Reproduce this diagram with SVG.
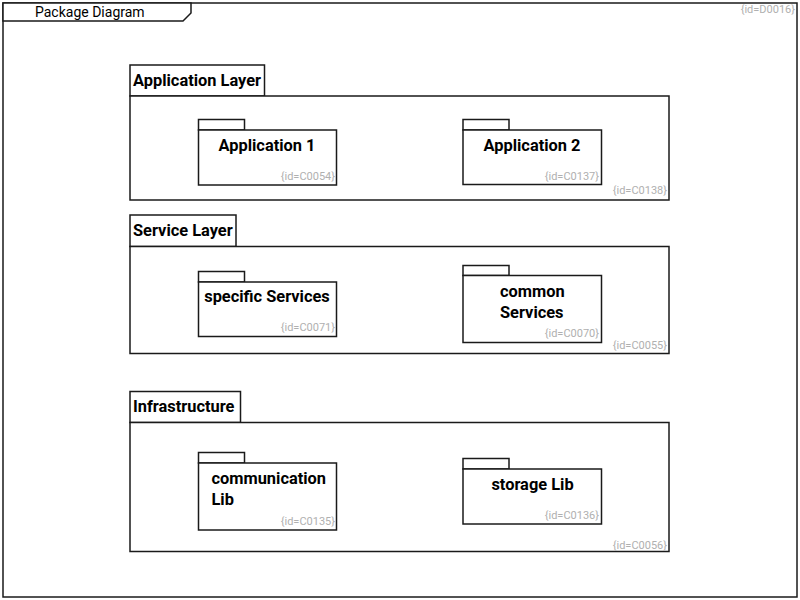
<svg xmlns="http://www.w3.org/2000/svg" width="800" height="600" viewBox="0 0 800 600">
<style>
.ln{fill:#fff;stroke:#1a1a1a;stroke-width:1.5}
.t{font-family:Roboto,"Liberation Sans",sans-serif;font-size:16.4px;font-weight:bold;fill:#000}
.tc{text-anchor:middle}
.id{font-family:Roboto,"Liberation Sans",sans-serif;font-size:11px;fill:#b0b0b0;text-anchor:end}
.ttl{font-family:Roboto,"Liberation Sans",sans-serif;font-size:14px;fill:#000}
</style>
<rect width="800" height="600" fill="#fff"/>
<g id="D0016">
<rect class="ln" x="3" y="3" width="794" height="594"/>
<path class="ln" d="M3,3 H191 V13 L183,21 H3 Z"/>
<text class="ttl" x="35" y="17">Package Diagram</text>
<text class="id" x="795" y="13">{id=D0016}</text>
</g>
<g id="C0138">
<rect class="ln" x="130" y="65" width="134.5" height="31"/>
<rect class="ln" x="130" y="96" width="539" height="104"/>
<text class="t" x="133" y="85.5">Application Layer</text>
<text class="id" x="667" y="193.5">{id=C0138}</text>
</g>
<g id="C0054">
<rect class="ln" x="198.5" y="119.5" width="46" height="10.5"/>
<rect class="ln" x="198.5" y="130" width="138" height="55"/>
<text class="t tc" x="267" y="151">Application 1</text>
<text class="id" x="335" y="180">{id=C0054}</text>
</g>
<g id="C0137">
<rect class="ln" x="463" y="119.5" width="46" height="10.5"/>
<rect class="ln" x="463" y="130" width="138.5" height="54.5"/>
<text class="t tc" x="532" y="151">Application 2</text>
<text class="id" x="599" y="180">{id=C0137}</text>
</g>
<g id="C0055">
<rect class="ln" x="130" y="215" width="106" height="31.5"/>
<rect class="ln" x="130" y="246.5" width="539" height="107"/>
<text class="t" x="133" y="235.5">Service Layer</text>
<text class="id" x="667" y="348.5">{id=C0055}</text>
</g>
<g id="C0071">
<rect class="ln" x="198.5" y="271.5" width="46" height="10.5"/>
<rect class="ln" x="198.5" y="282" width="138" height="54.5"/>
<text class="t tc" x="267" y="302.3">specific Services</text>
<text class="id" x="335" y="331">{id=C0071}</text>
</g>
<g id="C0070">
<rect class="ln" x="463" y="265.5" width="46" height="10"/>
<rect class="ln" x="463" y="275.5" width="138.5" height="67"/>
<text class="t" x="500" y="297.3">common</text>
<text class="t" x="500" y="317.8">Services</text>
<text class="id" x="599" y="337">{id=C0070}</text>
</g>
<g id="C0056">
<rect class="ln" x="130" y="391.5" width="110.5" height="31"/>
<rect class="ln" x="130" y="422.5" width="539" height="129"/>
<text class="t" x="133" y="411.5">Infrastructure</text>
<text class="id" x="667" y="548.5">{id=C0056}</text>
</g>
<g id="C0135">
<rect class="ln" x="198.5" y="452.5" width="46" height="10.5"/>
<rect class="ln" x="198.5" y="463" width="138" height="67"/>
<text class="t" x="211.5" y="484">communication</text>
<text class="t" x="211.5" y="504.5">Lib</text>
<text class="id" x="335" y="525">{id=C0135}</text>
</g>
<g id="C0136">
<rect class="ln" x="463" y="458.5" width="46" height="10.5"/>
<rect class="ln" x="463" y="469" width="138.5" height="55"/>
<text class="t tc" x="532.5" y="490">storage Lib</text>
<text class="id" x="599" y="519">{id=C0136}</text>
</g>
<g id="connectors"/>
</svg>
